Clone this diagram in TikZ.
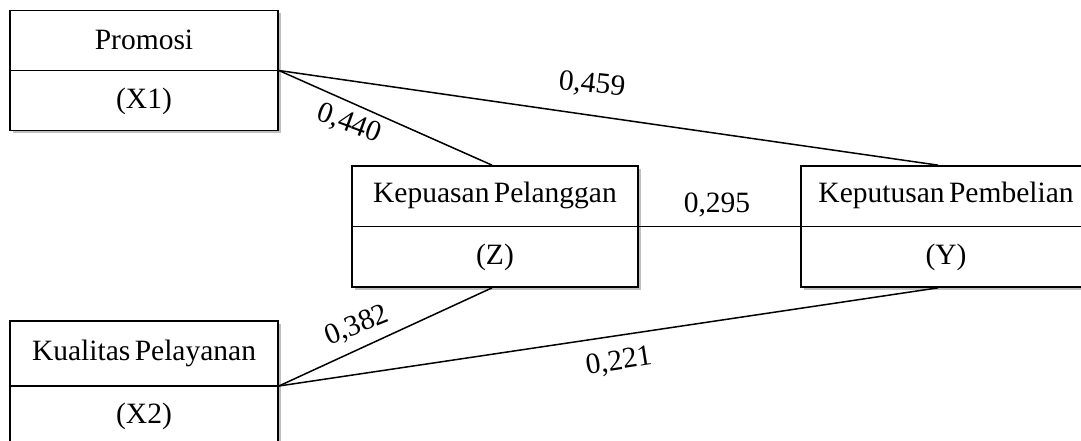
\documentclass[tikz,border=0pt]{standalone}
\usepackage{fontspec}
\setmainfont{Liberation Serif}[WordSpace=0.6]
\usetikzlibrary{shadows,calc}
\begin{document}
\begin{tikzpicture}[x=1pt,y=1pt,
  box/.style={draw, line width=1.7pt, fill=white, inner sep=0pt,
    drop shadow={shadow xshift=2.5pt, shadow yshift=-3pt, fill=black!50, opacity=0.5}},
  txt/.style={font=\fontsize{29.5}{32}\selectfont, inner sep=0pt},
  conn/.style={line width=1.5pt},
  divider/.style={line width=1.7pt},
  coef/.style={font=\fontsize{29.5}{32}\selectfont, inner sep=1pt}]
\useasboundingbox (0,0) rectangle (1081,-441);
\fill[white] (0,0) rectangle (1081,-441);
\begin{scope}
\clip (0,0) rectangle (1081,-441);
% boxes
\node[box, minimum width=268, minimum height=120] (P) at (144,-70.5) {};
\node[box, minimum width=268, minimum height=130] (Q) at (144,-386) {};
\node[box, minimum width=286, minimum height=121] (K) at (495,-226.5) {};
\node[box, minimum width=290, minimum height=121] (Y) at (946,-226.5) {};
% dividers
\draw[divider] (P.west) -- (P.east);
\draw[divider] (Q.west) -- (Q.east);
\draw[divider] (K.west) -- (K.east);
\draw[divider] (Y.west) -- (Y.east);
% texts
\node[txt] (Pa) at ($(P.north)!0.5!(P.center)$) {Promosi};
\node[txt] (Pb) at ($(P.south)!0.5!(P.center)$) {(X1)};
\node[txt] (Qa) at (144,-353.5) {Kualitas Pelayanan};
\node[txt] (Qb) at (144,-416) {(X2)};
\node[txt] (Ka) at ($(K.north)!0.5!(K.center)$) {Kepuasan Pelanggan};
\node[txt] (Kb) at ($(K.south)!0.5!(K.center)$) {(Z)};
\node[txt] (Ya) at ($(Y.north)!0.5!(Y.center)$) {Keputusan Pembelian};
\node[txt] (Yb) at ($(Y.south)!0.5!(Y.center)$) {(Y)};
% connectors
\draw[conn] (P.east) -- ([xshift=-3]K.north);
\draw[conn] (P.east) -- ([xshift=-8]Y.north);
\draw[conn] (K.east) -- (Y.west);
\draw[conn] (Q.east) -- ([xshift=-3]K.south);
\draw[conn] (Q.east) -- ([xshift=-8]Y.south);
% coefficients
\node[coef, rotate=-6] (c1) at (592,-85) {0,459};
\node[coef, rotate=-20] (c2) at (349,-124) {0,440};
\node[coef] (c3) at (717,-205) {0,295};
\node[coef, rotate=22] (c4) at (357,-326) {0,382};
\node[coef, rotate=9] (c5) at (619,-362) {0,221};
\end{scope}
\end{tikzpicture}
\end{document}
